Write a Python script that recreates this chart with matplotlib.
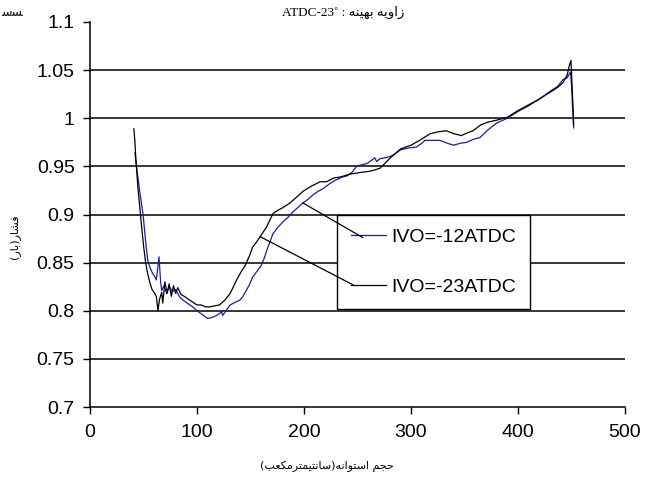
import matplotlib
matplotlib.use('Agg')
import matplotlib.pyplot as plt

# داده‌ها (خوانده شده از تصویر)
x_23 = [41, 42, 43, 44, 45, 46.5, 48, 50, 52, 54, 56, 58, 60, 62, 63.5, 65, 67, 68, 70, 72,
        74, 76, 78, 80, 82, 85, 88, 92, 96, 100, 104, 108, 112, 116, 121, 126, 131, 134, 137, 141,
        145, 149, 152, 156, 159, 162, 165, 168, 171, 175, 180, 187, 193, 199, 206, 215, 221, 228, 234, 243,
        249, 255, 262, 271, 280, 290, 300, 308, 318, 326, 333, 340, 347, 353, 358, 365, 372, 380, 390, 400,
        410, 420, 430, 437, 442, 446, 448, 449.5, 450.5, 451.5, 452]
y_23 = [0.989, 0.975, 0.955, 0.940, 0.925, 0.908, 0.890, 0.868, 0.850, 0.838, 0.829, 0.822, 0.819, 0.815, 0.800, 0.812, 0.819, 0.808, 0.830, 0.818,
        0.828, 0.815, 0.826, 0.818, 0.824, 0.817, 0.815, 0.812, 0.809, 0.806, 0.806, 0.804, 0.804, 0.805, 0.806, 0.811, 0.818, 0.825, 0.832, 0.840,
        0.847, 0.857, 0.866, 0.872, 0.877, 0.882, 0.887, 0.894, 0.901, 0.904, 0.907, 0.912, 0.918, 0.924, 0.929, 0.934, 0.934, 0.938, 0.939, 0.942,
        0.943, 0.944, 0.945, 0.948, 0.958, 0.968, 0.972, 0.977, 0.984, 0.986, 0.987, 0.984, 0.982, 0.985, 0.987, 0.993, 0.996, 0.998, 1.001, 1.008,
        1.014, 1.020, 1.027, 1.032, 1.037, 1.045, 1.055, 1.060, 1.035, 1.010, 0.993]

x_12 = [42, 44, 46.7, 49.6, 52, 54, 56, 58, 60.7, 62, 64.5, 66, 67, 69, 71.7, 74, 77, 80, 84, 87,
        92, 96, 100, 105, 110, 114, 118, 121, 123, 124, 127, 131, 136, 140, 143, 146, 149, 152, 156, 160,
        163, 165, 168, 171, 175, 180, 185, 190, 195, 199, 204, 208, 213, 218, 224, 230, 236, 240, 245, 249,
        255, 259, 264, 266, 268, 271, 276, 280, 285, 290, 297, 305, 310, 313, 320, 327, 334, 340, 346, 352,
        358, 364.5, 372, 380, 390, 400, 410, 420, 430, 437, 442, 446, 449, 450, 451, 452]
y_12 = [0.964, 0.945, 0.922, 0.900, 0.872, 0.852, 0.845, 0.840, 0.835, 0.832, 0.856, 0.830, 0.821, 0.826, 0.818, 0.825, 0.820, 0.822, 0.814, 0.811,
        0.807, 0.804, 0.800, 0.796, 0.792, 0.793, 0.795, 0.797, 0.799, 0.795, 0.800, 0.806, 0.809, 0.811, 0.815, 0.821, 0.827, 0.835, 0.841, 0.847,
        0.855, 0.862, 0.871, 0.880, 0.886, 0.892, 0.897, 0.903, 0.908, 0.912, 0.916, 0.920, 0.924, 0.927, 0.932, 0.936, 0.939, 0.940, 0.944, 0.950,
        0.952, 0.953, 0.957, 0.959, 0.955, 0.958, 0.959, 0.960, 0.963, 0.967, 0.969, 0.970, 0.974, 0.977, 0.977, 0.977, 0.974, 0.972, 0.974, 0.975,
        0.978, 0.980, 0.988, 0.995, 1.000, 1.007, 1.013, 1.020, 1.028, 1.033, 1.040, 1.042, 1.048, 1.035, 1.010, 0.990]

label_12 = 'IVO=-12ATDC'
label_23 = 'IVO=-23ATDC'
x_ticks = [0, 100, 200, 300, 400, 500]
y_ticks = [0.7, 0.75, 0.8, 0.85, 0.9, 0.95, 1, 1.05, 1.1]
y_tick_labels = ['0.7', '0.75', '0.8', '0.85', '0.9', '0.95', '1', '1.05', '1.1']

# شکل‌دهی ساده حروف فارسی (matplotlib خودش اتصال و راست‌به‌چپ ندارد)
FORMS = {
    'ا': ('\uFE8D', '\uFE8E', None, None),
    'ب': ('\uFE8F', '\uFE90', '\uFE91', '\uFE92'),
    'ت': ('\uFE95', '\uFE96', '\uFE97', '\uFE98'),
    'ج': ('\uFE9D', '\uFE9E', '\uFE9F', '\uFEA0'),
    'ح': ('\uFEA1', '\uFEA2', '\uFEA3', '\uFEA4'),
    'ر': ('\uFEAD', '\uFEAE', None, None),
    'ز': ('\uFEAF', '\uFEB0', None, None),
    'س': ('\uFEB1', '\uFEB2', '\uFEB3', '\uFEB4'),
    'ش': ('\uFEB5', '\uFEB6', '\uFEB7', '\uFEB8'),
    'ع': ('\uFEC9', '\uFECA', '\uFECB', '\uFECC'),
    'ف': ('\uFED1', '\uFED2', '\uFED3', '\uFED4'),
    'م': ('\uFEE1', '\uFEE2', '\uFEE3', '\uFEE4'),
    'ن': ('\uFEE5', '\uFEE6', '\uFEE7', '\uFEE8'),
    'ه': ('\uFEE9', '\uFEEA', '\uFEEB', '\uFEEC'),
    'و': ('\uFEED', '\uFEEE', None, None),
    'ی': ('\uFBFC', '\uFBFD', '\uFBFE', '\uFBFF'),
    'ک': ('\uFB8E', '\uFB8F', '\uFB90', '\uFB91'),
}


def fa(s):
    out = []
    for i, c in enumerate(s):
        if c not in FORMS:
            out.append(c)
            continue
        prev = s[i - 1] if i > 0 else ''
        nxt = s[i + 1] if i + 1 < len(s) else ''
        jp = prev in FORMS and FORMS[prev][2] is not None
        jn = nxt in FORMS and FORMS[c][2] is not None
        iso, fin, ini, med = FORMS[c]
        out.append(med if jp and jn else fin if jp else ini if jn else iso)
    return ''.join(out)[::-1].translate(str.maketrans('()', ')('))


fig = plt.figure(figsize=(6.5, 4.79), dpi=100)
ax = fig.add_axes([90 / 650, 1 - 407 / 479, 535 / 650, 385 / 479])

ax.plot(x_12, y_12, color='#1c1ca8', lw=0.9, label=label_12)
ax.plot(x_23, y_23, color='black', lw=0.9, label=label_23)

ax.set_xlim(0, 500)
ax.set_ylim(0.7, 1.1)
ax.set_xticks(x_ticks)
ax.set_yticks(y_ticks)
ax.set_yticklabels(y_tick_labels)
for lab in ax.get_xticklabels() + ax.get_yticklabels():
    lab.set_fontfamily('Liberation Sans')
    lab.set_fontsize(14)
ax.tick_params(direction='out', length=5, width=1, colors='black')
ax.tick_params(axis='y', pad=6)
ax.tick_params(axis='x', pad=7)

ax.yaxis.grid(True, color='black', lw=1.1)
ax.get_ygridlines()[-1].set_visible(False)
ax.get_ygridlines()[0].set_visible(False)
ax.spines['top'].set_visible(False)
ax.spines['right'].set_visible(False)
for s in ['left', 'bottom']:
    ax.spines[s].set_linewidth(1.1)

leg = ax.legend(loc='upper left', bbox_to_anchor=(0.462, 0.499), borderaxespad=0,
                prop={'family': 'Liberation Sans', 'size': 14}, handlelength=1.8,
                handletextpad=0.3, labelspacing=1.65, borderpad=0.7,
                fancybox=False, framealpha=1, edgecolor='black')
leg.get_frame().set_linewidth(1)

# خطوط راهنما از منحنی تا راهنما
ax.annotate('', xy=(x_12[49], y_12[49]), xytext=(0.510, 0.440), textcoords='axes fraction',
            arrowprops=dict(arrowstyle='-', color='black', lw=0.9, shrinkA=0, shrinkB=0), zorder=6)
ax.annotate('', xy=(x_23[44], y_23[44]), xytext=(0.492, 0.317), textcoords='axes fraction',
            arrowprops=dict(arrowstyle='-', color='black', lw=0.9, shrinkA=0, shrinkB=0), zorder=6)

fig.text(343 / 650, 1 - 12 / 479, 'ATDC-23˚ : ' + fa('زاویه بهینه'), ha='center', va='center',
         fontsize=9.5, family=['Liberation Serif', 'DejaVu Sans'])
fig.text(15 / 650, 1 - 237 / 479, fa('فشار(بار)'), rotation=90, ha='center', va='center',
         fontsize=8, family=['DejaVu Sans'])
fig.text(327 / 650, 1 - 466 / 479, fa('حجم استوانه(سانتیمترمکعب)'), ha='center', va='center',
         fontsize=8, family=['DejaVu Sans'])
fig.text(0.002, 1 - 12 / 479, '\uFEB3\uFEB4', ha='left', va='center', fontsize=9, family=['DejaVu Sans'])

fig.savefig('out.png', dpi=100)
